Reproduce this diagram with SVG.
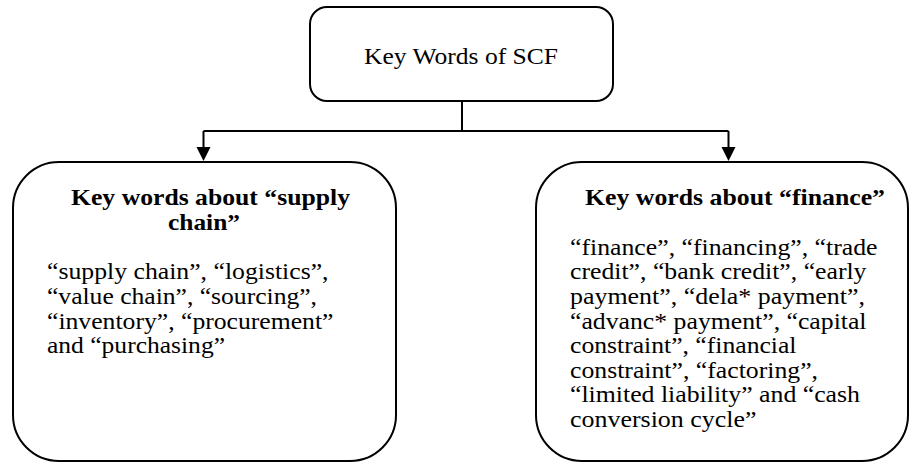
<svg xmlns="http://www.w3.org/2000/svg" width="910" height="464" viewBox="0 0 910 464">
  <defs>
    <marker id="arrow" markerUnits="userSpaceOnUse" markerWidth="16" markerHeight="16" viewBox="0 0 16 16" refX="2" refY="8" orient="auto">
      <path d="M0 1 L14 8 L0 15 Z" fill="#000"/>
    </marker>
  </defs>
  <style>
    .box { fill: #fff; stroke: #000; stroke-width: 2; }
    .conn { fill: none; stroke: #000; stroke-width: 2; }
    .t { font-family: "Liberation Serif", "Times New Roman", Times, "DejaVu Serif", serif; fill: #000; }
    .top { font-size: 23.5px; }
    .head { font-size: 22.5px; font-weight: bold; }
    .body { font-size: 22.5px; }
  </style>

  <rect width="910" height="464" fill="#fff"/>

  <!-- connectors: trunk, crossbar and two arrowed drops -->
  <g id="connectors">
    <path class="conn" d="M462 101 V131"/>
    <path class="conn" d="M203.5 131 H728.5"/>
    <path class="conn" d="M203.5 131 V149" marker-end="url(#arrow)"/>
    <path class="conn" d="M728.5 131 V149" marker-end="url(#arrow)"/>
  </g>

  <!-- root node -->
  <g id="node-scf">
    <rect class="box" x="310" y="7" width="303" height="94" rx="17"/>
    <text class="t top" x="364" y="64" textLength="194" lengthAdjust="spacingAndGlyphs">Key Words of SCF</text>
  </g>

  <!-- supply chain keywords -->
  <g id="node-supply-chain">
    <rect class="box" x="13" y="162" width="383" height="299" rx="46"/>
    <text class="t head" x="71" y="205" textLength="279" lengthAdjust="spacingAndGlyphs">Key words about “supply</text>
    <text class="t head" x="168" y="230" textLength="72" lengthAdjust="spacingAndGlyphs">chain”</text>
    <text class="t body" x="47" y="279.3" textLength="281.5" lengthAdjust="spacingAndGlyphs">“supply chain”, “logistics”,</text>
    <text class="t body" x="47" y="304" textLength="270" lengthAdjust="spacingAndGlyphs">“value chain”, “sourcing”,</text>
    <text class="t body" x="47" y="329" textLength="286.5" lengthAdjust="spacingAndGlyphs">“inventory”, “procurement”</text>
    <text class="t body" x="47" y="353.3" textLength="178" lengthAdjust="spacingAndGlyphs">and “purchasing”</text>
  </g>

  <!-- finance keywords -->
  <g id="node-finance">
    <rect class="box" x="536" y="162" width="372" height="299" rx="46"/>
    <text class="t head" x="585" y="205" textLength="300" lengthAdjust="spacingAndGlyphs">Key words about “finance”</text>
    <text class="t body" x="570" y="255" textLength="307.5" lengthAdjust="spacingAndGlyphs">“finance”, “financing”, “trade</text>
    <text class="t body" x="570" y="279.3" textLength="296.5" lengthAdjust="spacingAndGlyphs">credit”, “bank credit”, “early</text>
    <text class="t body" x="570" y="304" textLength="295" lengthAdjust="spacingAndGlyphs">payment”, “dela* payment”,</text>
    <text class="t body" x="570" y="329" textLength="296.5" lengthAdjust="spacingAndGlyphs">“advanc* payment”, “capital</text>
    <text class="t body" x="570" y="353.3" textLength="226.5" lengthAdjust="spacingAndGlyphs">constraint”, “financial</text>
    <text class="t body" x="570" y="377.7" textLength="248" lengthAdjust="spacingAndGlyphs">constraint”, “factoring”,</text>
    <text class="t body" x="570" y="402.3" textLength="290" lengthAdjust="spacingAndGlyphs">“limited liability” and “cash</text>
    <text class="t body" x="570" y="426.7" textLength="186.5" lengthAdjust="spacingAndGlyphs">conversion cycle”</text>
  </g>
</svg>
